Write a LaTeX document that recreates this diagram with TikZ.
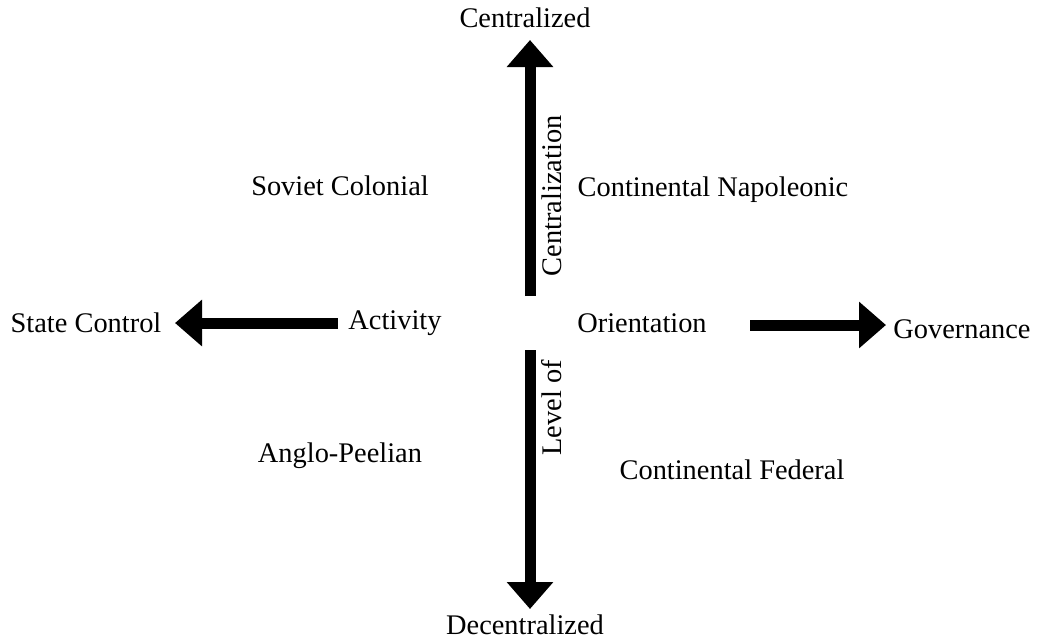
\documentclass[tikz,border=0pt]{standalone}
\usepackage{fontspec}
\setmainfont{Liberation Serif}
\usetikzlibrary{arrows.meta, positioning}
\tikzset{
    axislabel/.style={font=\fontsize{14.2}{16}\selectfont, inner sep=0pt},
    bigarrow/.style={-{Triangle[width=22.5pt,length=13.5pt]}, line width=5.5pt},
}

\begin{document}
\begin{tikzpicture}[x=0.5pt, y=-0.5pt]
\useasboundingbox (0,0) rectangle (1041,639);

% axis ends
\node[axislabel] (central) at (525,18) {Centralized};
\node[axislabel] (decentral) at (525,625) {Decentralized};
\node[axislabel] (state) at (86,323) {State Control};
\node[axislabel] (gov) at (962,329) {Governance};

% axis names
\node[axislabel] (activity) at (395,323) {Activity};
\node[axislabel] (orient) at (642,323) {Orientation};
\node[axislabel, rotate=90] (centraliz) at (552,196) {Centralization};
\node[axislabel, rotate=90] (level) at (552,408) {Level of};

% quadrants
\node[axislabel] (soviet) at (340,186) {Soviet Colonial};
\node[axislabel] (napoleon) at (713,190) {Continental Napoleonic};
\node[axislabel] (anglo) at (340,456) {Anglo-Peelian};
\node[axislabel] (federal) at (732,470) {Continental Federal};

\coordinate (upfrom) at (530,296);
\coordinate (upto) at (530,40);
\coordinate (downfrom) at (530,350);
\coordinate (downto) at (530,609);
\coordinate (leftfrom) at (338,323);
\coordinate (leftto) at (175,323);
\coordinate (rightfrom) at (750,325);
\coordinate (rightto) at (886,325);

\draw[bigarrow] (upfrom) -- (upto);
\draw[bigarrow] (downfrom) -- (downto);
\draw[bigarrow] (leftfrom) -- (leftto);
\draw[bigarrow] (rightfrom) -- (rightto);
\end{tikzpicture}
\end{document}
